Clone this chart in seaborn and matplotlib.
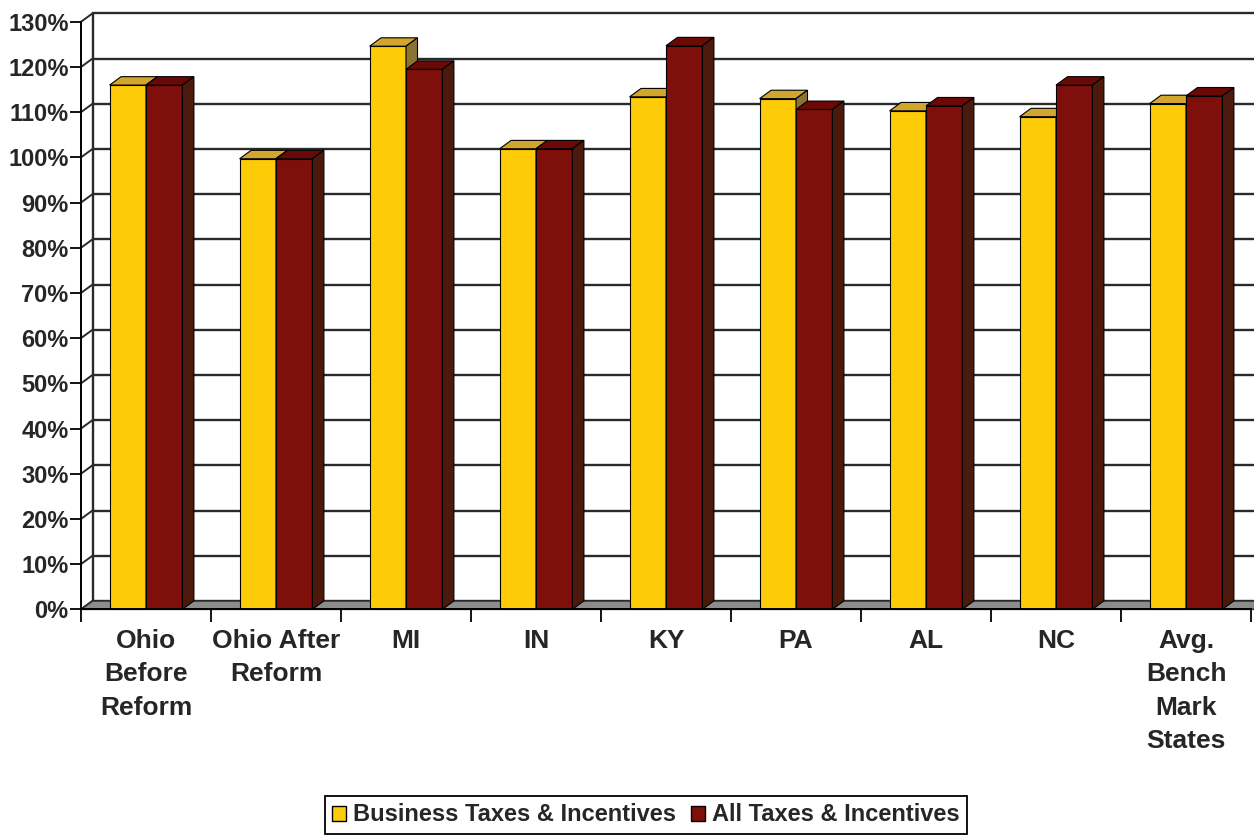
import numpy as np
import pandas as pd
import matplotlib
matplotlib.use("Agg")
import matplotlib.pyplot as plt
from matplotlib.patches import Polygon
import seaborn as sns

# ---- data -------------------------------------------------------------
regions = ["Ohio\nBefore\nReform", "Ohio After\nReform", "MI", "IN", "KY",
           "PA", "AL", "NC", "Avg.\nBench\nMark\nStates"]
business = [116, 99.7, 124.6, 101.9, 113.4, 113, 110.3, 109, 111.9]
all_taxes = [116, 99.7, 119.5, 101.9, 124.7, 110.6, 111.4, 116, 113.6]
series_names = ["Business Taxes & Incentives", "All Taxes & Incentives"]
y_ticks = list(range(0, 131, 10))

df = pd.DataFrame({
    "region": regions * 2,
    "value": business + all_taxes,
    "series": [series_names[0]] * len(regions) + [series_names[1]] * len(regions),
})

# ---- styling ------------------------------------------------------------
sns.set_theme(style="white")
plt.rcParams["font.family"] = ["Liberation Sans", "DejaVu Sans"]
plt.rcParams["font.weight"] = "bold"

front = ["#FDCB08", "#7E0F0A"]
top = ["#D2A52C", "#6A0905"]
side = ["#8A7433", "#4B1A0D"]

W, H = 1254, 838
fig = plt.figure(figsize=(W / 100, H / 100), dpi=100)
ax_left, ax_right = 81, 1251
ax_bottom, ax_top = 609.3, 21.8
ax = fig.add_axes([ax_left / W, (H - ax_bottom) / H,
                   (ax_right - ax_left) / W, (ax_bottom - ax_top) / H])

sns.barplot(data=df, x="region", y="value", hue="series", palette=front,
            width=0.56, gap=0, saturation=1, edgecolor="black", linewidth=0.8,
            ax=ax)
ax.set_xlim(-0.5, len(regions) - 0.5)
ax.set_ylim(0, 130)

# depth of the 3-D box, converted from pixels to data units
px_per_x = (ax_right - ax_left) / len(regions)
px_per_y = (ax_bottom - ax_top) / 130
DX = 11.5 / px_per_x
DY = 8.4 / px_per_y
x0, x1 = -0.5, len(regions) - 0.5

# back wall grid, left wall slants and floor
for v in y_ticks:
    ax.plot([x0 + DX, x1 + DX + 1], [v + DY, v + DY], color="#2a2a2a",
            lw=1.7, zorder=0.5, clip_on=False)
    ax.plot([x0, x0 + DX], [v, v + DY], color="#2a2a2a", lw=1.4,
            zorder=0.5, clip_on=False)
ax.plot([x0 + DX, x0 + DX], [DY, 130 + DY], color="#2a2a2a", lw=1.7,
        zorder=0.5, clip_on=False)
floor = Polygon([(x0, 0), (x1 + 1, 0), (x1 + 1 + DX, DY), (x0 + DX, DY)],
                closed=True, facecolor="#8c8c8c", edgecolor="#2a2a2a",
                lw=1.2, zorder=0.8, clip_on=False)
ax.add_patch(floor)

# top and side faces of every bar
for k, cont in enumerate(ax.containers):
    for bar in cont:
        bx, bw, bh = bar.get_x(), bar.get_width(), bar.get_height()
        z = 2 + k
        bar.set_zorder(z)
        t = Polygon([(bx, bh), (bx + bw, bh), (bx + bw + DX, bh + DY),
                     (bx + DX, bh + DY)], closed=True, facecolor=top[k],
                    edgecolor="black", lw=0.8, zorder=z, clip_on=False)
        s = Polygon([(bx + bw, 0), (bx + bw + DX, DY), (bx + bw + DX, bh + DY),
                     (bx + bw, bh)], closed=True, facecolor=side[k],
                    edgecolor="black", lw=0.8, zorder=z, clip_on=False)
        ax.add_patch(t)
        ax.add_patch(s)

# axes
for sp in ["top", "right"]:
    ax.spines[sp].set_visible(False)
for sp in ["left", "bottom"]:
    ax.spines[sp].set_color("black")
    ax.spines[sp].set_linewidth(1.4)
    ax.spines[sp].set_zorder(6)

ax.set_yticks(y_ticks)
ax.set_yticklabels([f"{v}%" for v in y_ticks], fontsize=17, fontweight="bold")
ax.tick_params(axis="y", left=True, length=8, width=1.3, color="black", pad=1)

ax.set_xticks(range(len(regions)))
ax.set_xticklabels(regions, fontsize=19, fontweight="bold", linespacing=1.5,
                   va="top")
ax.set_xticks(np.arange(-0.5, len(regions), 1), minor=True)
ax.tick_params(axis="x", which="major", length=0, pad=14)
ax.tick_params(axis="x", which="minor", bottom=True, length=9, width=1.3,
               color="black")
ax.set_xlabel("")
ax.set_ylabel("")

handles, labels = ax.get_legend_handles_labels()
ax.get_legend().remove()
leg = fig.legend(handles, labels, loc="center", bbox_to_anchor=(0.515, 0.0275),
                 bbox_transform=fig.transFigure, ncol=2, frameon=True,
                 fancybox=False, framealpha=1, edgecolor="black",
                 prop={"weight": "bold", "size": 17}, handlelength=0.6,
                 handleheight=0.6, handletextpad=0.3, columnspacing=0.6,
                 borderpad=0.32, borderaxespad=0)
leg.get_frame().set_linewidth(1.3)
for hnd in leg.legend_handles:
    hnd.set_edgecolor("black")
    hnd.set_linewidth(1.0)

fig.savefig("out.png", dpi=100, facecolor="white")
